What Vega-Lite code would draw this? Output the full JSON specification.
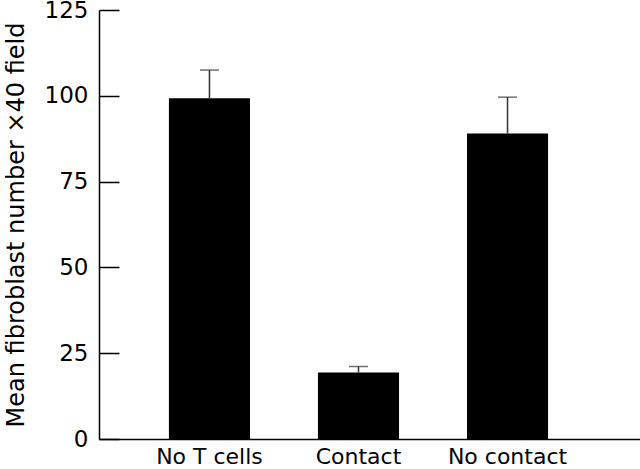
{
  "$schema": "https://vega.github.io/schema/vega-lite/v6.json",
  "autosize": "none",
  "width": 541,
  "height": 429,
  "padding": {"left": 99, "top": 10, "right": 0, "bottom": 30},
  "background": "white",
  "config": {
    "view": {"stroke": null},
    "font": "DejaVu Sans",
    "axis": {"labelFont": "DejaVu Sans", "titleFont": "DejaVu Sans", "labelColor": "black", "titleColor": "black", "domainColor": "black", "tickColor": "black", "grid": false}
  },
  "data": {
    "values": [
      {"group": "No T cells", "mean": 99.3, "upper": 107.5},
      {"group": "Contact", "mean": 19.4, "upper": 21.1},
      {"group": "No contact", "mean": 89.0, "upper": 99.6}
    ]
  },
  "encoding": {
    "x": {
      "field": "group", "type": "nominal", "sort": null,
      "scale": {"paddingInner": 0.456, "paddingOuter": 0.543, "align": 0.432},
      "axis": {"title": null, "labelAngle": 0, "ticks": false, "labelFontSize": 22, "labelPadding": 7, "domainWidth": 1.5}
    }
  },
  "layer": [
    {
      "mark": {"type": "bar", "color": "black"},
      "encoding": {
        "y": {
          "field": "mean", "type": "quantitative",
          "scale": {"domain": [0, 125], "nice": false},
          "axis": {"title": "Mean fibroblast number ×40 field", "titleFontSize": 24, "titleFontWeight": "normal", "titlePadding": 16, "values": [0, 25, 50, 75, 100, 125], "tickSize": -20, "tickWidth": 1.5, "domainWidth": 1.5, "labelFontSize": 23, "labelPadding": 31}
        }
      }
    },
    {
      "mark": {"type": "rule", "color": "#333", "strokeWidth": 1.5},
      "encoding": {"y": {"field": "mean", "type": "quantitative"}, "y2": {"field": "upper"}}
    },
    {
      "mark": {"type": "tick", "color": "#333", "thickness": 1.5, "size": 19},
      "encoding": {"y": {"field": "upper", "type": "quantitative"}}
    }
  ]
}
